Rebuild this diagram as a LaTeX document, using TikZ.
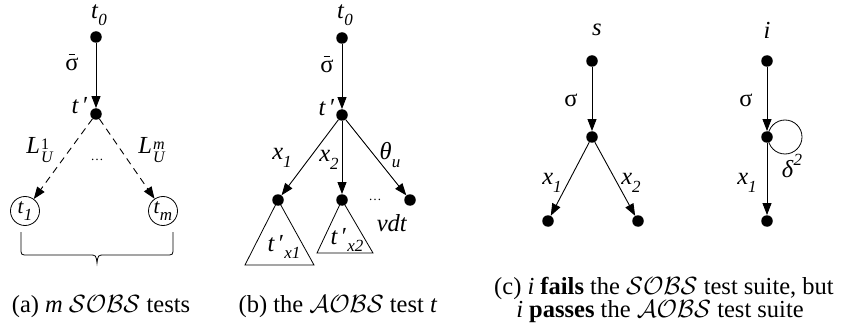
\documentclass[tikz,border=0pt]{standalone}
\usepackage{fontspec}
\setmainfont{Liberation Serif}
\usetikzlibrary{arrows.meta}
\newcommand\lsub[1]{\raisebox{-0.3em}{\fontsize{17}{17}\selectfont\textit{#1}}}
\newcommand\lsup[1]{\raisebox{0.45em}{\fontsize{17}{17}\selectfont\textit{#1}}}
\newcommand\itsub[2]{\textit{#1}\lsub{#2}}
\newcommand\supsub[2]{\kern1pt\raisebox{-0.4em}{\fontsize{16}{17}\selectfont\shortstack[l]{#1\\\textit{#2}}}}
\newcommand\sigbar{\ooalign{σ\cr\hidewidth\raisebox{0.62em}{\rule{0.28em}{0.06em}}\hidewidth\cr}}
\begin{document}
\begin{tikzpicture}[x=1pt,y=-1pt,
  font=\fontsize{24.5}{29}\selectfont,
  dot/.style={circle,fill=black,inner sep=0pt,minimum size=11.5pt},
  circ/.style={circle,draw,inner sep=0pt,minimum size=29pt,line width=0.8pt,
    font=\fontsize{21}{24}\selectfont},
  arr/.style={-{Triangle[length=12pt,width=9pt]},line width=0.9pt},
  dasharr/.style={arr,dash pattern=on 7pt off 5pt},
  lbl/.style={inner sep=0pt},
  captxt/.style={inner sep=0pt,align=center}]
\useasboundingbox (0,0) rectangle (845,331);
% ---------- (a)
\node[dot] (a0) at (96,37) {};
\node[dot] (a1) at (96,114) {};
\node[circ] (at1) at (25,211) {\itsub{t}{1}};
\node[circ] (atm) at (163,211) {\itsub{t}{m}};
\draw[arr] (a0) -- (a1);
\draw[dasharr] (a1) -- (at1);
\draw[dasharr] (a1) -- (atm);
\node[lbl] (la0) at (99,15) {\itsub{t}{0}};
\node[lbl] (lasig) at (72,64) {\sigbar};
\node[lbl] (la1) at (80,106) {\textit{t}\,′};
\node[lbl] (laL1) at (40,150) {\textit{L}\supsub{1}{U}};
\node[lbl] (laLm) at (152,150) {\textit{L}\supsub{\textit{m}}{U}};
\node[lbl] (ladots) at (97,160) {\fontsize{13}{13}\selectfont …};
\coordinate (bl) at (21,232);
\coordinate (br) at (173,232);
\draw[line width=0.8pt] (bl) -- (21,248) .. controls (21,255) .. (28,255) -- (89,255)
  .. controls (96,255) .. (97,263) .. controls (98,255) .. (105,255) -- (166,255)
  .. controls (173,255) .. (173,248) -- (br);
\node[captxt] (capa) at (101,307) {(a) \textit{m} $\mathcal{SOBS}$ tests};
% ---------- (b)
\node[dot] (b0) at (342,38) {};
\node[dot] (b1) at (342,115) {};
\node[dot] (b2) at (278,200) {};
\node[dot] (b3) at (342,200) {};
\node[dot] (b4) at (410,200) {};
\draw[arr] (b0) -- (b1);
\draw[arr] (b1) -- (b2);
\draw[arr] (b1) -- (b3);
\draw[arr] (b1) -- (b4);
\draw[line width=0.8pt] (b2.center) -- (245,265) -- (314,265) -- cycle;
\draw[line width=0.8pt] (b3.center) -- (317,253) -- (373,253) -- cycle;
\node[lbl] (lb0) at (345,15) {\itsub{t}{0}};
\node[lbl] (lbsig) at (327,66) {\sigbar};
\node[lbl] (lb1) at (327,108) {\textit{t}\,′};
\node[lbl] (lbx1) at (282,158) {\itsub{x}{1}};
\node[lbl] (lbx2) at (329,160) {\itsub{x}{2}};
\node[lbl] (lbth) at (390,155) {\itsub{θ}{u}};
\node[lbl] (lbdots) at (375,200) {\fontsize{13}{13}\selectfont …};
\node[lbl] (lbvdt) at (392,223) {\textit{vdt}};
\node[lbl] (lbtx1) at (284,247) {\textit{t}\,′\lsub{x1}};
\node[lbl] (lbtx2) at (347,240) {\textit{t}\,′\lsub{x2}};
\node[captxt] (capb) at (338,307) {(b) the $\mathcal{AOBS}$ test \textit{t}};
% ---------- (c)
\node[dot] (s0) at (592,61) {};
\node[dot] (s1) at (592,137) {};
\node[dot] (s2) at (548,221) {};
\node[dot] (s3) at (638,221) {};
\draw[arr] (s0) -- (s1);
\draw[arr] (s1) -- (s2);
\draw[arr] (s1) -- (s3);
\node[lbl] (ls) at (597,30) {\textit{s}};
\node[lbl] (lssig) at (571,100) {σ};
\node[lbl] (lsx1) at (552,183) {\itsub{x}{1}};
\node[lbl] (lsx2) at (631,183) {\itsub{x}{2}};
\draw[line width=0.8pt] (785,137) circle[radius=17pt];
\node[dot] (i0) at (767,61) {};
\node[dot] (i1) at (767,137) {};
\node[dot] (i2) at (767,221) {};
\draw[arr] (i0) -- (i1);
\draw[arr] (i1) -- (i2);
\node[lbl] (li) at (767,30) {\textit{i}};
\node[lbl] (lisig) at (746,100) {σ};
\node[lbl] (lix1) at (747,183) {\itsub{x}{1}};
\node[lbl] (lid) at (792,166) {\textit{δ}\lsup{2}};
\node[captxt] (capc1) at (664,288) {(c) \textit{i} \textbf{fails} the $\mathcal{SOBS}$ test suite, but};
\node[captxt] (capc2) at (660,312) {\textit{i} \textbf{passes} the $\mathcal{AOBS}$ test suite};
\end{tikzpicture}
\end{document}
